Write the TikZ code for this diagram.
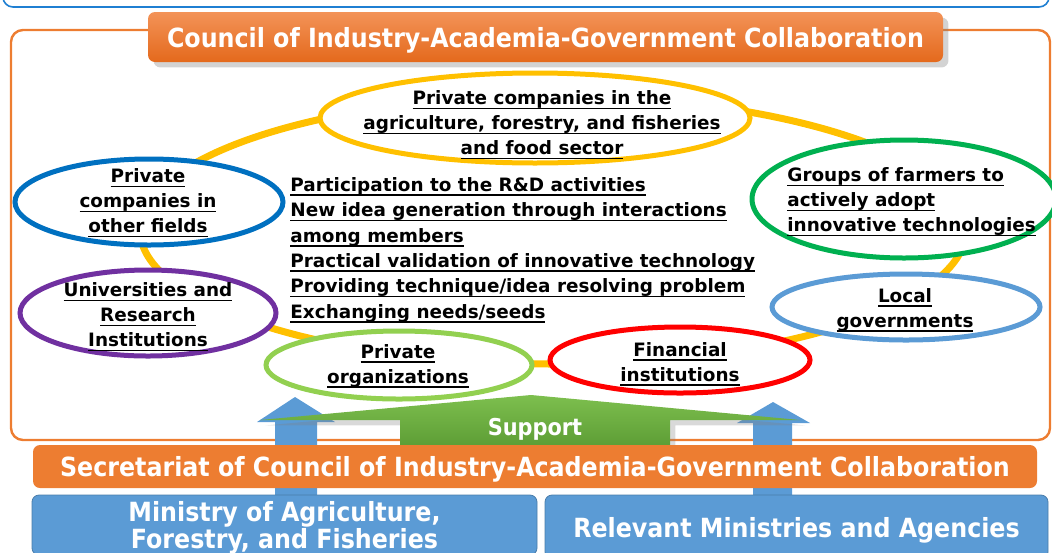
\documentclass[tikz,border=0pt]{standalone}
\usepackage{fontspec}
\setmainfont{DejaVu Sans}
\newfontfamily\hdfont{DejaVu Sans Condensed Bold}
\usetikzlibrary{shapes,shadows}
\definecolor{corange}{HTML}{ED7D31}
\definecolor{corangetop}{HTML}{F39358}
\definecolor{corangebot}{HTML}{E4691C}
\definecolor{cframe}{HTML}{1F7FD2}
\definecolor{cyellow}{HTML}{FFC000}
\definecolor{cdblue}{HTML}{0070C0}
\definecolor{cpurple}{HTML}{7030A0}
\definecolor{cgreen}{HTML}{00B050}
\definecolor{clblue}{HTML}{5B9BD5}
\definecolor{clgreen}{HTML}{92D050}
\definecolor{cred}{HTML}{FF0000}
\definecolor{csuptop}{HTML}{7DBF4E}
\definecolor{csupbot}{HTML}{5E9E36}
\newsavebox{\ulbox}
\newcommand{\ulin}[1]{\sbox{\ulbox}{#1}\rlap{\rule[-2.4pt]{\wd\ulbox}{0.8pt}}\usebox{\ulbox}}

\begin{document}
\begin{tikzpicture}[x=0.5pt, y=-0.5pt]
      \tikzstyle{every node}=[font=\bfseries\fontsize{9.2}{12.5}\selectfont, inner sep=0pt, align=center]
      \tikzstyle{bubble}=[draw, ellipse, line width=2.5pt, fill=white]
      \tikzstyle{hdbox}=[rounded corners=3.5pt, text=white, text depth=0pt, font=\hdfont\fontsize{13.2}{13.5}\selectfont]
      \tikzstyle{uparrow}=[fill=clblue]
      %%
  \clip (0,0) rectangle (1052,552);
  \draw [cframe, line width=.8pt, rounded corners=5pt] (3,-30) rectangle (1049,7);
  \draw [corange, line width=1.2pt, rounded corners=6pt] (11,30) rectangle (1050,440);
  % ring behind the members
  \draw [cyellow, line width=3.5pt] (553,230) ellipse [x radius=206.5pt, y radius=67pt];
  \node (b_food) at (535,118) [bubble, draw=cyellow, minimum width=215pt, minimum height=45pt] {};
  \node (b_other) at (149,202) [bubble, draw=cdblue, minimum width=134pt, minimum height=43pt] {};
  \node (b_univ) at (148,313) [bubble, draw=cpurple, minimum width=128pt, minimum height=43pt] {};
  \node (b_farm) at (904,199) [bubble, draw=cgreen, minimum width=152pt, minimum height=59pt] {};
  \node (b_local) at (906,307) [bubble, draw=clblue, minimum width=134pt, minimum height=33pt] {};
  \node (b_org) at (399,365) [bubble, draw=clgreen, minimum width=133pt, minimum height=34pt] {};
  \node (b_fin) at (680,360) [bubble, draw=cred, minimum width=130pt, minimum height=33pt] {};
  \node (t_food) at (542,125) {\ulin{Private companies in the}\\\ulin{agriculture, forestry, and fisheries}\\\ulin{and food sector}};
  \node (t_other) at (148,203) {\ulin{Private}\\\ulin{companies in}\\\ulin{other fields}};
  \node (t_univ) at (148,317) {\ulin{Universities and}\\\ulin{Research}\\\ulin{Institutions}};
  \node (t_farm) at (787,202) [anchor=west, align=left] {\ulin{Groups of farmers to}\\\ulin{actively adopt}\\\ulin{innovative technologies}};
  \node (t_local) at (905,310) {\ulin{Local}\\\ulin{governments}};
  \node (t_org) at (398,366) {\ulin{Private}\\\ulin{organizations}};
  \node (t_fin) at (680,364) {\ulin{Financial}\\\ulin{institutions}};
  % activities
  \node (act1) at (290,191) [anchor=base west] {\ulin{Participation to the R\&D activities}};
  \node (act2) at (290,216.5) [anchor=base west] {\ulin{New idea generation through interactions}};
  \node (act3) at (290,242) [anchor=base west] {\ulin{among members}};
  \node (act4) at (290,267) [anchor=base west] {\ulin{Practical validation of innovative technology}};
  \node (act5) at (290,292.5) [anchor=base west] {\ulin{Providing technique/idea resolving problem}};
  \node (act6) at (290,318) [anchor=base west] {\ulin{Exchanging needs/seeds}};
  % support
  \fill [uparrow] (275,500) -- (275,422) -- (257,422) -- (295,397) -- (335,422) -- (317,422) -- (317,500) -- cycle;
  \fill [uparrow] (753,500) -- (753,423) -- (737,423) -- (773,402) -- (810,423) -- (792,423) -- (792,500) -- cycle;
  \path [top color=csuptop, bottom color=csupbot, drop shadow={opacity=.3}] (260,420) -- (531,395) -- (800,420) -- (670,420) -- (670,445) -- (400,445) -- (400,420) -- cycle;
  \node (sup) at (535,427) [font=\hdfont\fontsize{11.6}{12}\selectfont, text=white, text depth=0pt] {Support};
  \node (secr) at (535,466.5) [hdbox, fill=corange, minimum width=502pt, minimum height=21.5pt] {Secretariat of Council of Industry-Academia-Government Collaboration};
  \node (maff) at (284.5,525) [hdbox, fill=clblue, draw=clblue!80!black, minimum width=252.5pt, minimum height=30pt] {Ministry of Agriculture,\\Forestry, and Fisheries};
  \node (rel) at (796.5,527) [hdbox, fill=clblue, draw=clblue!80!black, minimum width=251.5pt, minimum height=32pt] {Relevant Ministries and Agencies};
  \node (council) at (545.5,37) [hdbox, top color=corangetop, bottom color=corangebot, drop shadow={opacity=.35}, minimum width=397.5pt, minimum height=25pt] {Council of Industry-Academia-Government Collaboration};
%
    \end{tikzpicture}
\end{document}
